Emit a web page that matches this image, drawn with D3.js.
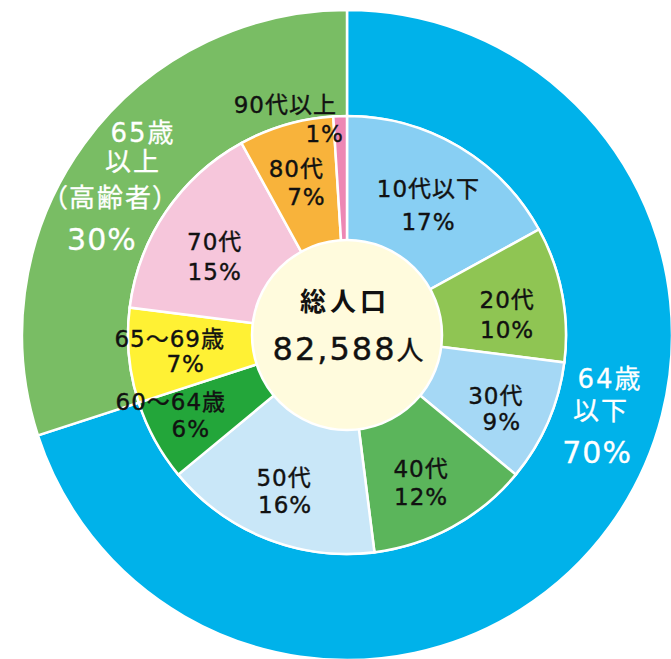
<!DOCTYPE html>
<html>
<head>
<meta charset="utf-8">
<script src="https://cdn.jsdelivr.net/npm/d3@7"></script>
<style>
  body { margin: 0; background: #fff; }
  svg text { font-family: "DejaVu Sans", "Noto Sans CJK JP", sans-serif; }
</style>
</head>
<body>
<svg class="chart"></svg>
<script>
// outer ring: 64歳以下 / 65歳以上
const outerGroups = ["64歳以下", "65歳以上（高齢者）"];
const outerLines = [["64歳", "以下"], ["65歳", "以上", "（高齢者）"]];
const outerValues = [70, 30];
const outerColors = ["#00b2ea", "#79bd64"];

// inner pie: age groups, clockwise from 12 o'clock
const ageGroups = ["10代以下", "20代", "30代", "40代", "50代", "60〜64歳", "65〜69歳", "70代", "80代", "90代以上"];
const ageValues = [17, 10, 9, 12, 16, 6, 7, 15, 7, 1];
const ageColors = ["#88cff3", "#8fc553", "#a5d8f5", "#5bb55b", "#c9e7f8", "#23a63a", "#fff134", "#f6c6db", "#f8b33b", "#ed87b4"];

const totalTitle = "総人口";
const totalPop = 82588;

function chart() {
    const width = 671, height = 659,
        cx = 347, cy = 335,
        rOuter = 325, rInner = 219, rCenter = 95;

    const svg = d3.select(".chart")
        .attr("width", width)
        .attr("height", height)
        .append("g")
        .attr("transform", `translate(${cx},${cy})`);

    const pie = d3.pie().sort(null).value(d => d);

    const outerArc = d3.arc().innerRadius(rInner).outerRadius(rOuter);
    const innerArc = d3.arc().innerRadius(0).outerRadius(rInner);
    const innerLabelArc = d3.arc().innerRadius(160).outerRadius(160);
    const outerLabelArc = d3.arc().innerRadius(272).outerRadius(272);

    const outerPie = pie(outerValues);
    const innerPie = pie(ageValues);

    svg.selectAll(".outer")
        .data(outerPie)
        .join("path")
        .attr("class", "outer")
        .attr("d", outerArc)
        .attr("fill", (d, i) => outerColors[i])
        .attr("stroke", "#fff")
        .attr("stroke-width", 2.5);

    svg.selectAll(".inner")
        .data(innerPie)
        .join("path")
        .attr("class", "inner")
        .attr("d", innerArc)
        .attr("fill", (d, i) => ageColors[i])
        .attr("stroke", "#fff")
        .attr("stroke-width", 2.5);

    svg.append("circle")
        .attr("r", rCenter)
        .attr("fill", "#fffbdd")
        .attr("stroke", "#fff")
        .attr("stroke-width", 2.5);

    // label nudges from the arc centroid: [dx1, dy1, dx2, dy2, anchor]
    const innerNudge = [
        [0, 0, 0, 33, "middle"],
        [3, 3, 3, 33, "middle"],
        [2, 5, 8, 31, "middle"],
        [-3, 2, -3, 30, "middle"],
        [-4, 2, -3, 29, "middle"],
        [-36, -2, -16, 25, "middle"],
        [-18, -3, -2, 22, "middle"],
        [0, 5, 0, 35, "middle"],
        [-6, -4, 4, 24, "middle"],
        [-5, -62, 2, -33, "end"]
    ];

    innerPie.forEach((d, i) => {
        const [x, y] = innerLabelArc.centroid(d);
        const n = innerNudge[i];
        const g = svg.append("g")
            .attr("font-size", 23)
            .attr("letter-spacing", 1)
            .attr("fill", "#111")
            .attr("stroke", "#111")
            .attr("stroke-width", 0.4)
            .attr("text-anchor", n[4]);
        g.append("text").attr("x", x + n[0]).attr("y", y + n[1]).text(ageGroups[i]);
        g.append("text").attr("x", x + n[2]).attr("y", y + n[3]).text(`${ageValues[i]}%`);
    });

    // outer labels, offsets per line from the ring centroid
    const outerNudge = [
        [[43, -107], [34, -75], [30, -32]],
        [[16, -33], [6, -4], [-16, 32], [-25, 75]]
    ];

    outerPie.forEach((d, i) => {
        const [x, y] = outerLabelArc.centroid(d);
        const lines = outerLines[i].concat([`${outerValues[i]}%`]);
        const g = svg.append("g")
            .attr("fill", "#fff")
            .attr("stroke", "#fff")
            .attr("stroke-width", 0.3)
            .attr("text-anchor", "middle");
        lines.forEach((t, j) => {
            const last = j === lines.length - 1;
            g.append("text")
                .attr("x", x + outerNudge[i][j][0])
                .attr("y", y + outerNudge[i][j][1])
                .attr("font-size", last ? 30 : 26)
                .attr("letter-spacing", last ? 1 : 2)
                .style("font-feature-settings", "'palt'")
                .text(t);
        });
    });

    // centre
    svg.append("text")
        .attr("x", -2)
        .attr("y", -24)
        .attr("text-anchor", "middle")
        .attr("font-size", 26)
        .attr("font-weight", "bold")
        .attr("letter-spacing", 4)
        .attr("fill", "#111")
        .text(totalTitle);

    const pop = svg.append("text")
        .attr("x", 1)
        .attr("y", 25)
        .attr("text-anchor", "middle")
        .attr("fill", "#111")
        .attr("stroke", "#111")
        .attr("stroke-width", 0.4);
    pop.append("tspan")
        .attr("font-size", 32)
        .attr("letter-spacing", 2)
        .text(d3.format(",")(totalPop));
    pop.append("tspan")
        .attr("font-size", 27)
        .text("人");
}

chart();
</script>
</body>
</html>
